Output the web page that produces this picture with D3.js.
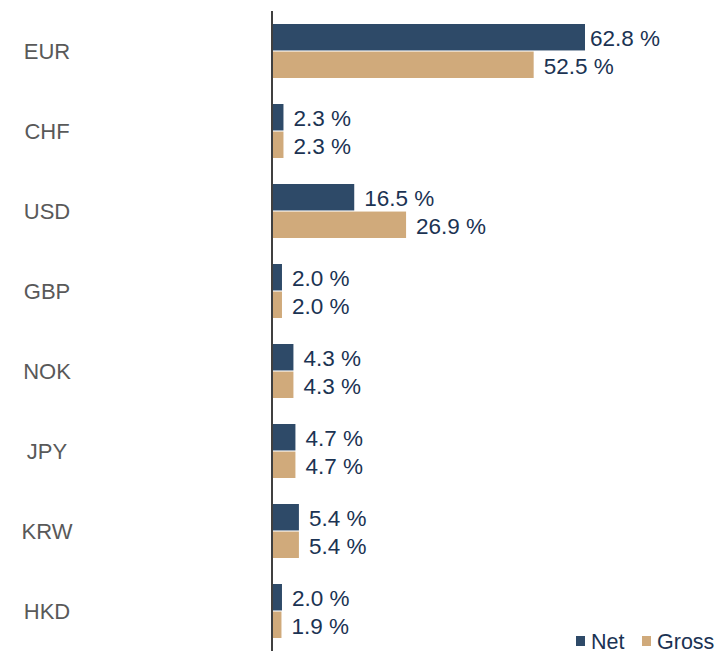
<!DOCTYPE html>
<html>
<head>
<meta charset="utf-8">
<script src="https://cdn.jsdelivr.net/npm/d3@7"></script>
<style>
  body { margin: 0; background: #fff; }
  svg text { font-family: Arial, "Liberation Sans", sans-serif; }
</style>
</head>
<body>
<div id="chart"></div>
<script>
const currencies = ['EUR', 'CHF', 'USD', 'GBP', 'NOK', 'JPY', 'KRW', 'HKD'];
const netValues = [62.8, 2.3, 16.5, 2.0, 4.3, 4.7, 5.4, 2.0];
const grossValues = [52.5, 2.3, 26.9, 2.0, 4.3, 4.7, 5.4, 1.9];
const seriesNames = ['Net', 'Gross'];

const width = 723, height = 653;
const colors = {Net: '#2E4A68', Gross: '#D0AA7B'};

const svg = d3.select('#chart')
    .append('svg')
    .attr('width', width)
    .attr('height', height);

// skala
const x = d3.scaleLinear()
    .domain([0, 62.8])
    .range([272, 585]);

const y = d3.scaleBand()
    .domain(currencies)
    .range([11, 651])
    .paddingInner(0.325)
    .paddingOuter(0.1625);

const ySub = d3.scaleBand()
    .domain(seriesNames)
    .range([0, y.bandwidth()])
    .paddingInner(0.04);

const rows = currencies.map((c, i) => ({
    cur: c,
    values: [
        {name: 'Net', value: netValues[i]},
        {name: 'Gross', value: grossValues[i]}
    ]
}));

const groups = svg.selectAll('.grp')
    .data(rows)
    .enter()
    .append('g')
    .attr('class', 'grp')
    .attr('transform', d => `translate(0,${y(d.cur)})`);

groups.selectAll('rect')
    .data(d => d.values)
    .enter()
    .append('rect')
    .attr('x', x(0))
    .attr('y', d => ySub(d.name))
    .attr('width', d => x(d.value) - x(0))
    .attr('height', ySub.bandwidth())
    .attr('fill', d => colors[d.name]);

// label nilai (digeser ke kiri kalau terlalu mepet kanan)
groups.selectAll('.val')
    .data(d => d.values)
    .enter()
    .append('text')
    .attr('class', 'val')
    .attr('x', d => Math.min(x(d.value) + 10, 590))
    .attr('y', d => ySub(d.name) + ySub.bandwidth() / 2 + 1)
    .attr('dy', '0.36em')
    .attr('fill', '#1B3353')
    .style('font-size', '22.5px')
    .text(d => d.value.toFixed(1) + ' %');

// label kategori
svg.selectAll('.cat')
    .data(currencies)
    .enter()
    .append('text')
    .attr('class', 'cat')
    .attr('x', 47)
    .attr('y', d => y(d) + y.bandwidth() / 2)
    .attr('dy', '0.36em')
    .attr('text-anchor', 'middle')
    .attr('fill', '#595959')
    .style('font-size', '22px')
    .text(d => d);

// sumbu
svg.append('line')
    .attr('x1', x(0)).attr('x2', x(0))
    .attr('y1', 11).attr('y2', 651)
    .attr('stroke', '#404040')
    .attr('stroke-width', 2);

// legenda
const legend = svg.append('g');
const legendX = [576, 642];
seriesNames.forEach((s, i) => {
    legend.append('rect')
        .attr('x', legendX[i])
        .attr('y', 636)
        .attr('width', 9)
        .attr('height', 10)
        .attr('fill', colors[s]);
    legend.append('text')
        .attr('x', legendX[i] + 15)
        .attr('y', 649)
        .attr('fill', '#1B3353')
        .style('font-size', '21.5px')
        .text(s);
});
</script>
</body>
</html>
